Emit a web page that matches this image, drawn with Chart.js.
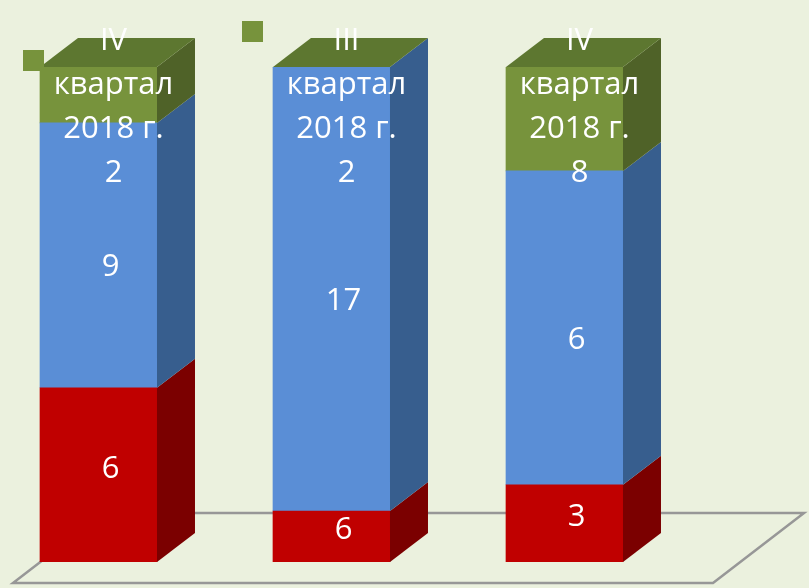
<!DOCTYPE html>
<html>
<head>
<meta charset="utf-8">
<script src="https://cdn.jsdelivr.net/npm/chart.js@4.4.0/dist/chart.umd.min.js"></script>
<style>
  body { margin: 0; background: #EBF1DE; }
  #wrap { width: 809px; height: 588px; }
</style>
</head>
<body>
<div id="wrap"><canvas id="mycanvas" width="809" height="588"></canvas></div>
<script>
// bar positions (one per column)
var barIndex = [0, 1, 2];

// segment heights (share of column, %)
var redShare = [35.2, 10.3, 15.6];
var blueShare = [53.5, 89.7, 63.4];
var greenShare = [11.3, 0, 21.0];

// numbers printed on the segments
var redValues = [6, 6, 3];
var blueValues = [9, 17, 6];
var greenValues = [2, 2, 8];
var greenNames = [
  ['IV', 'квартал', '2018 г.'],
  ['III', 'квартал', '2018 г.'],
  ['IV', 'квартал', '2018 г.']
];

var depthX = 38, depthY = -29;
var sideColors = ['#7B0000', '#375E8E', '#4F6228'];
var topColor = '#5D7730';
var labelFont = '31px "Open Sans", sans-serif';

function points(vals) {
  var out = [];
  for (var i in vals) out.push({ x: barIndex[i], y: vals[i] });
  return out;
}

var box3d = {
  id: 'box3d',
  beforeDatasetsDraw: function(chart) {
    var c = chart.ctx, y0 = chart.scales.y.getPixelForValue(0);
    // floor plate
    c.save();
    c.strokeStyle = '#979797';
    c.lineWidth = 2.5;
    c.beginPath();
    c.moveTo(13, y0 + 21);
    c.lineTo(713, y0 + 21);
    c.lineTo(804, y0 - 49);
    c.lineTo(104, y0 - 49);
    c.closePath();
    c.stroke();
    c.restore();
  },
  afterDatasetsDraw: function(chart) {
    var c = chart.ctx;
    var n = chart.data.datasets.length;
    c.save();
    for (var i = 0; i < barIndex.length; i++) {
      var topY = null, left, right;
      for (var d = 0; d < n; d++) {
        var el = chart.getDatasetMeta(d).data[i];
        left = el.x - el.width / 2;
        right = el.x + el.width / 2;
        var yTop = Math.min(el.y, el.base), yBot = Math.max(el.y, el.base);
        if (yBot - yTop > 0.1) {
          c.fillStyle = sideColors[d];
          c.beginPath();
          c.moveTo(right, yBot);
          c.lineTo(right + depthX, yBot + depthY);
          c.lineTo(right + depthX, yTop + depthY);
          c.lineTo(right, yTop);
          c.closePath();
          c.fill();
        }
        topY = topY === null ? yTop : Math.min(topY, yTop);
      }
      // top face
      c.fillStyle = topColor;
      c.beginPath();
      c.moveTo(left, topY);
      c.lineTo(right, topY);
      c.lineTo(right + depthX, topY + depthY);
      c.lineTo(left + depthX, topY + depthY);
      c.closePath();
      c.fill();
    }

    // data labels
    c.fillStyle = '#FFFFFF';
    c.font = labelFont;
    c.textAlign = 'center';
    c.textBaseline = 'middle';
    var plain = [redValues, blueValues];
    for (var d = 0; d < 2; d++) {
      var meta = chart.getDatasetMeta(d);
      for (var i = 0; i < barIndex.length; i++) {
        var el = meta.data[i];
        c.fillText(String(plain[d][i]), el.x + 12, (el.y + el.base) / 2 + (d == 1 ? 12 : -6));
      }
    }
    var gMeta = chart.getDatasetMeta(2);
    for (var i = 0; i < barIndex.length; i++) {
      var el = gMeta.data[i];
      var lines = greenNames[i].concat([String(greenValues[i])]);
      var mid = Math.min(el.y, el.base) + 40;
      var lh = 44;
      var start = mid - lh * (lines.length - 1) / 2;
      for (var k = 0; k < lines.length; k++) {
        c.fillText(lines[k], el.x + 15, start + k * lh);
      }
    }

    // legend markers
    c.fillStyle = '#77933C';
    c.fillRect(23, 50, 21, 21);
    c.fillRect(242, 21, 21, 21);
    c.restore();
  }
};

var chartdata = {
  datasets: [
    { label: 'red', backgroundColor: '#C00000', data: points(redShare) },
    { label: 'blue', backgroundColor: '#5A8ED6', data: points(blueShare) },
    { label: 'green', backgroundColor: '#77933C', data: points(greenShare) }
  ]
};

var ctx = document.getElementById('mycanvas');
var Graph = new Chart(ctx, {
  type: 'bar',
  data: chartdata,
  plugins: [box3d],
  options: {
    responsive: false,
    animation: false,
    devicePixelRatio: 1,
    layout: { padding: { top: 67, bottom: 26, left: 0, right: 0 } },
    barThickness: 117,
    plugins: { legend: { display: false }, tooltip: { enabled: false } },
    scales: {
      x: { type: 'linear', stacked: true, display: false, offset: false, min: -0.4227, max: 3.0494 },
      y: { stacked: true, display: false, min: 0, max: 100 }
    }
  }
});
</script>
</body>
</html>
